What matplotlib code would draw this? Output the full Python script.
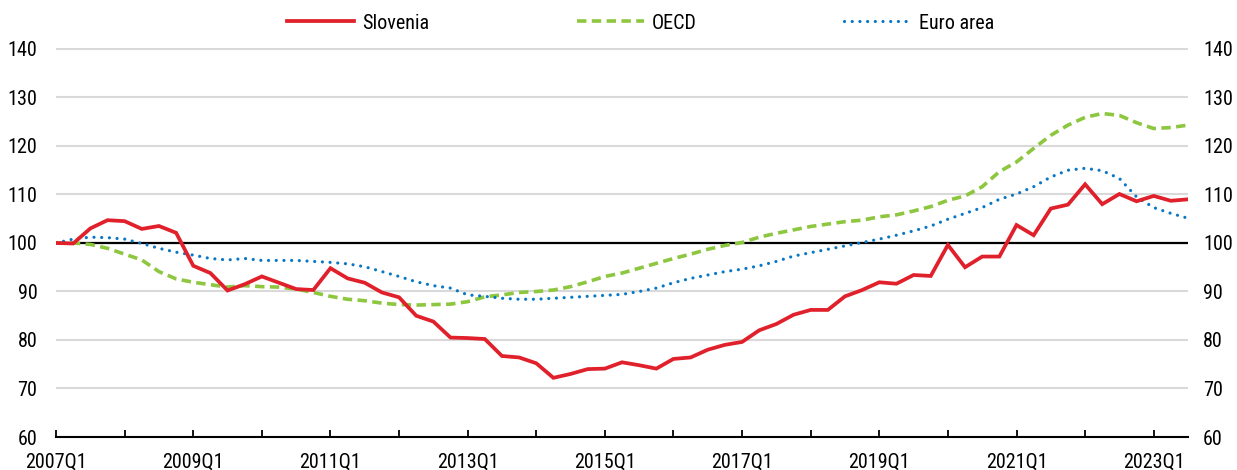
import numpy as np
import matplotlib
matplotlib.use("Agg")
import matplotlib.pyplot as plt

plt.rcParams['font.family'] = ['Roboto Condensed', 'Liberation Sans', 'DejaVu Sans']

# quarterly index, 2007Q1 = 100
years = list(range(2007, 2024))
quarters = [f"{y}Q{q}" for y in years for q in range(1, 5)][:67]  # 2007Q1..2023Q3

slovenia = [100.0, 99.9, 103.0, 104.7, 104.5, 102.9, 103.5, 102.1, 95.3, 93.8,
            90.2, 91.5, 93.1, 91.8, 90.5, 90.3, 94.8, 92.7, 91.8, 89.8,
            88.8, 85.0, 83.8, 80.5, 80.4, 80.2, 76.7, 76.4, 75.2, 72.2,
            73.0, 74.0, 74.1, 75.4, 74.8, 74.1, 76.1, 76.4, 78.0, 79.0,
            79.6, 82.0, 83.3, 85.2, 86.2, 86.2, 89.0, 90.3, 91.9, 91.6,
            93.4, 93.2, 99.6, 95.0, 97.2, 97.2, 103.7, 101.6, 107.1, 107.9,
            112.1, 108.0, 110.1, 108.6, 109.7, 108.7, 109.0]

oecd = [100.0, 100.0, 99.7, 98.9, 97.7, 96.5, 94.1, 92.6, 91.9, 91.4,
        90.9, 91.2, 91.0, 90.9, 90.5, 89.8, 89.0, 88.4, 88.1, 87.6,
        87.3, 87.2, 87.3, 87.4, 87.9, 88.9, 89.3, 89.8, 90.0, 90.3,
        91.0, 92.0, 93.1, 93.8, 94.8, 95.8, 96.8, 97.7, 98.7, 99.5,
        100.1, 101.2, 102.0, 102.7, 103.4, 103.9, 104.4, 104.7, 105.4, 105.8,
        106.6, 107.5, 108.8, 109.7, 111.6, 114.7, 116.7, 119.5, 122.2, 124.3,
        125.9, 126.7, 126.3, 124.8, 123.6, 123.8, 124.3]

euro_area = [100.0, 100.8, 101.2, 101.1, 100.8, 99.9, 98.9, 98.1, 97.5, 96.8,
             96.5, 96.8, 96.4, 96.4, 96.4, 96.2, 96.0, 95.7, 95.1, 94.1,
             93.1, 92.0, 91.2, 90.7, 89.3, 89.0, 88.6, 88.4, 88.4, 88.6,
             88.8, 89.0, 89.2, 89.4, 90.0, 90.7, 91.8, 92.7, 93.4, 94.1,
             94.6, 95.3, 96.2, 97.3, 98.0, 98.7, 99.4, 100.1, 100.8, 101.6,
             102.5, 103.5, 104.9, 106.1, 107.3, 109.0, 110.1, 111.6, 113.6, 115.0,
             115.4, 114.9, 113.3, 109.5, 107.3, 106.1, 105.1]

x = np.arange(len(quarters))
fs = 14.5

fig = plt.figure(figsize=(12.37, 4.70), dpi=100)
ax = fig.add_axes([0.0453, 0.0702, 0.9151, 0.8277])

ax.set_ylim(60, 140.2)
ax.set_xlim(0, len(quarters) - 1)
ax.set_yticks(range(60, 141, 10))
ax.grid(axis='y', color='#d9d9d9', lw=1.5, zorder=0)
ax.axhline(100, color='black', lw=1.6, zorder=2)

ax.plot(x, slovenia, color='#e0202a', lw=2.7, label='Slovenia', zorder=5,
        solid_joinstyle='miter')
ax.plot(x, oecd, color='#8dc63f', lw=2.6, ls=(0, (2.6, 1.5)), label='OECD', zorder=3)
ax.plot(x, euro_area, color='#0a77c5', lw=2.3, ls=(0, (0.01, 2.4)),
        dash_capstyle='round', label='Euro area', zorder=4)

for s in ['top', 'left', 'right']:
    ax.spines[s].set_visible(False)
ax.spines['bottom'].set_linewidth(1.5)

ax.set_xticks(x[::4])
ax.set_xticklabels([q if i % 8 == 0 else '' for i, q in enumerate(quarters)][::4])
ax.tick_params(axis='x', direction='in', length=5, width=1.3, pad=11, labelsize=fs)
ax.tick_params(axis='y', length=0, pad=13.5, labelsize=fs)

ax2 = ax.twinx()
ax2.set_ylim(ax.get_ylim())
ax2.set_yticks(range(60, 141, 10))
for s in ax2.spines.values():
    s.set_visible(False)
ax2.tick_params(axis='y', length=0, pad=10.8, labelsize=fs)

fig.legend(loc='center', bbox_to_anchor=(0.518, 0.951), ncol=3, frameon=False,
           fontsize=fs, handlelength=3.35, columnspacing=7.3, handletextpad=0.4)

fig.savefig('out.png', dpi=100)
